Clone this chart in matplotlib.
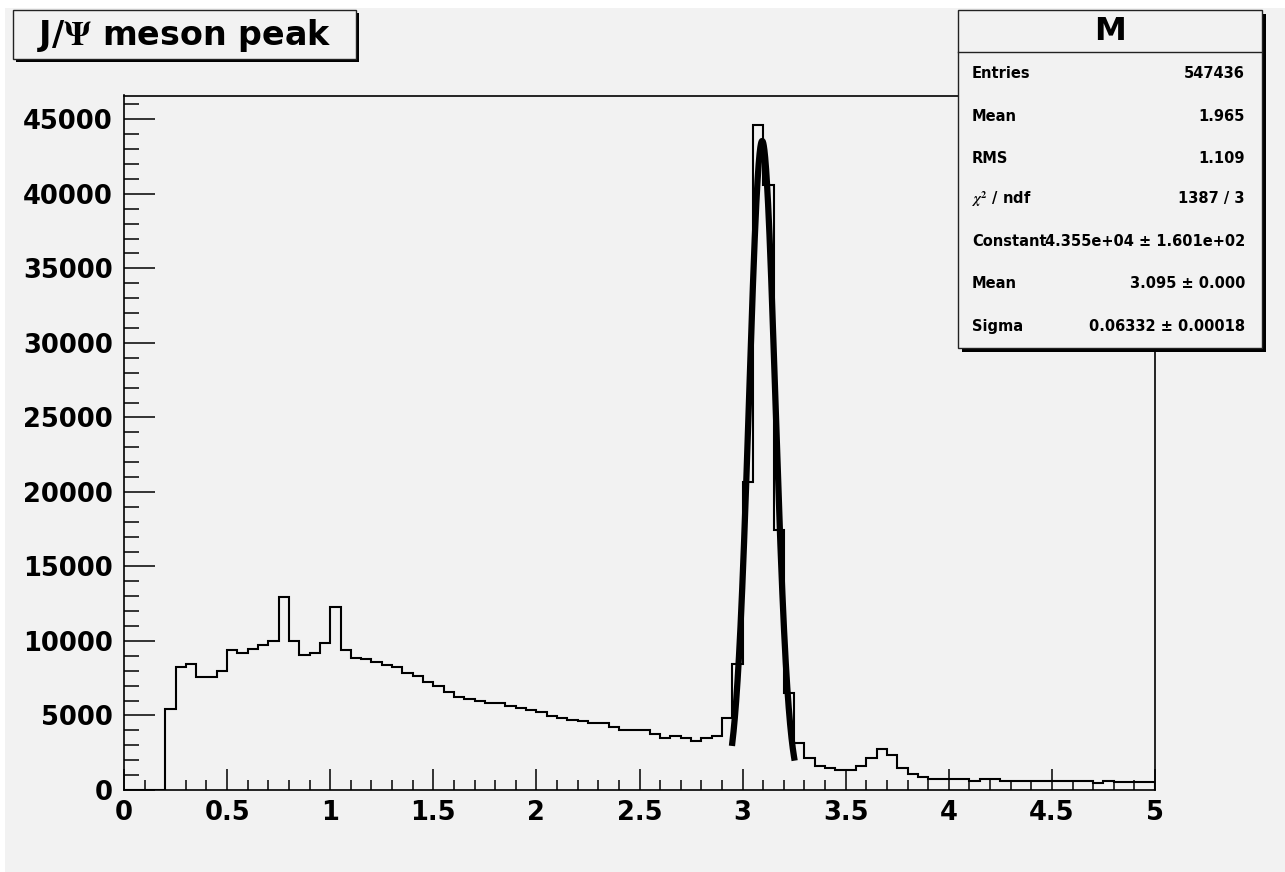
import matplotlib
matplotlib.use("Agg")
import matplotlib.pyplot as plt
from matplotlib.patches import Rectangle
from matplotlib.ticker import MultipleLocator, FuncFormatter
import numpy as np

# histogram contents: 100 bins of width 0.05 from 0 to 5
counts = [0, 0, 0, 0,
          5450, 8250, 8470, 7600, 7600, 7970, 9390, 9210, 9480, 9700,
          10000, 12960, 10000, 9050, 9210, 9840, 12310, 9390, 8870, 8760,
          8600, 8360, 8240, 7860, 7640, 7230, 7010, 6600, 6240, 6110,
          5980, 5840, 5840, 5620, 5480, 5350, 5210, 4990, 4850, 4720,
          4600, 4490, 4490, 4220, 4000, 4000, 4000, 3770, 3480, 3620,
          3480, 3260, 3460, 3620, 4830, 8440, 20690, 44600, 40570, 17470,
          6490, 3150, 2130, 1620, 1470, 1370, 1370, 1620, 2130, 2760,
          2360, 1480, 1080, 850, 740, 740, 740, 740, 630, 740,
          740, 630, 630, 630, 630, 630, 630, 630, 630, 630,
          500, 630, 540, 540, 540, 540]
edges = np.arange(0, 5.0001, 0.05)

# gaussian fit, parameters as printed in the stats box
fit_const = 4.355e4
fit_mean = 3.095
fit_sigma = 0.06332
fit_lo, fit_hi = 2.95, 3.25

title = "J/$\\Psi$ meson peak"
stats_name = "M"
stats_labels = ["Entries", "Mean", "RMS", "$\\chi^{2}$ / ndf", "Constant", "Mean", "Sigma"]
stats_values = ["547436", "1.965", "1.109", "1387 / 3",
                "4.355e+04 \u00b1 1.601e+02", "3.095 \u00b1 0.000", "0.06332 \u00b1 0.00018"]

plt.rcParams['font.family'] = ['DejaVu Sans']
plt.rcParams['font.weight'] = 'bold'
plt.rcParams['mathtext.fontset'] = 'stix'

W, H = 1285, 872
bg = '#f2f2f2'

def fx(x):
    return x / W

def fy(y):
    return 1 - y / H

def box(fig, x0, y0, x1, y1, shadow):
    # ROOT style pave: dark shadow down-right, gray fill, thin border
    fig.add_artist(Rectangle((fx(x0 + shadow), fy(y1 + shadow)), (x1 - x0) / W, (y1 - y0) / H,
                             transform=fig.transFigure, facecolor='black', edgecolor='none', zorder=4))
    fig.add_artist(Rectangle((fx(x0), fy(y1)), (x1 - x0) / W, (y1 - y0) / H,
                             transform=fig.transFigure, facecolor=bg, edgecolor='#222222', lw=1.0, zorder=4.1))

fig = plt.figure(figsize=(12.85, 8.72), dpi=100)
fig.patch.set_facecolor('white')
fig.add_artist(Rectangle((fx(5), 0), 1, fy(8), transform=fig.transFigure,
                         facecolor=bg, edgecolor='none', zorder=-10))

ax = fig.add_axes([fx(124), fy(790), fx(1155) - fx(124), fy(95.5) - fy(790)])
ax.set_facecolor(bg)

ax.stairs(counts, edges, baseline=0, color='black', lw=1.5)

xf = np.linspace(fit_lo, fit_hi, 400)
yf = fit_const * np.exp(-0.5 * ((xf - fit_mean) / fit_sigma) ** 2)
ax.plot(xf, yf, color='black', lw=4.5)

ax.set_xlim(0, 5)
ax.set_ylim(0, 46600)
ax.xaxis.set_major_locator(MultipleLocator(0.5))
ax.xaxis.set_minor_locator(MultipleLocator(0.1))
ax.yaxis.set_major_locator(MultipleLocator(5000))
ax.yaxis.set_minor_locator(MultipleLocator(1000))
fmt = FuncFormatter(lambda v, p: '%g' % v)
ax.xaxis.set_major_formatter(fmt)
ax.yaxis.set_major_formatter(fmt)

ax.tick_params(axis='both', which='both', direction='in', top=False, right=False,
               width=1.1, colors='black', labelsize=18.5)
ax.tick_params(axis='y', which='major', length=22, pad=8)
ax.tick_params(axis='y', which='minor', length=11)
ax.tick_params(axis='x', which='major', length=15, pad=7)
ax.tick_params(axis='x', which='minor', length=7)
for s in ax.spines.values():
    s.set_linewidth(1.2)
    s.set_color('black')

# title pave
box(fig, 13, 10, 356, 59, 3)
fig.text(fx(184.5), fy(35), title, ha='center', va='center', fontsize=24,
         fontweight='bold', zorder=5)

# stats pave
box(fig, 958, 10, 1262, 348, 4)
fig.add_artist(plt.Line2D([fx(958), fx(1262)], [fy(52), fy(52)], transform=fig.transFigure,
                          color='#222222', lw=1.0, zorder=4.2))
fig.text(fx(1110), fy(31), stats_name, ha='center', va='center', fontsize=23, zorder=5)
row_y = [74, 116.5, 158.5, 199, 241.5, 284, 326]
for lab, val, yy in zip(stats_labels, stats_values, row_y):
    fig.text(fx(972), fy(yy), lab, ha='left', va='center', fontsize=10.5, zorder=5)
    fig.text(fx(1245), fy(yy), val, ha='right', va='center', fontsize=10.5, zorder=5)

fig.savefig('out.png', dpi=100, facecolor=fig.get_facecolor())
